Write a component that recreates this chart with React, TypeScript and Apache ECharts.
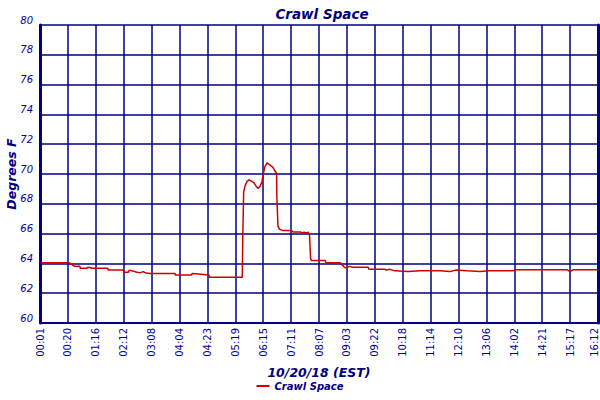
import { useRef, useEffect } from 'react';
import * as echarts from 'echarts';

const tickLabels = [
    '00:01', '00:20', '01:16', '02:12', '03:08', '04:04', '04:23', '05:19', '06:15', '07:11', '08:07',
    '09:03', '09:22', '10:18', '11:14', '12:10', '13:06', '14:02', '14:21', '15:17', '16:12',
];

// x in tick-interval units (0 = 00:01, 20 = 16:12), y in degrees F
const readingX = [
    0.04, 0.9, 1.05, 1.1, 1.15, 1.22, 1.43, 1.44, 1.68, 1.7, 1.82, 1.84, 2.43, 2.44, 3.01, 3.02, 3.17, 3.2, 3.48, 3.6, 3.7, 3.8,
    3.94, 4.84, 4.85, 5.43, 5.46, 6.06, 6.07, 7.25,
    7.27, 7.3, 7.35, 7.42, 7.49, 7.6, 7.67, 7.74, 7.81, 7.88, 7.96, 7.99, 8.06, 8.14, 8.21, 8.28, 8.35, 8.42, 8.48,
    8.49, 8.53, 8.58, 8.71, 9.03, 9.07, 9.35, 9.39, 9.47, 9.54, 9.61, 9.66, 9.7, 9.73, 10.22, 10.25, 10.75,
    10.86, 10.93, 11.11, 11.18, 11.76, 11.79, 12.37, 12.4, 12.55, 12.72, 13.2, 13.6, 14.34, 14.7, 14.9, 15.3,
    15.77, 16.1, 16.95, 17.03, 18.9, 19.0, 19.1, 20,
];
const readingY = [
    64.05, 64.05, 64.05, 63.95, 63.92, 63.81, 63.81, 63.67, 63.67, 63.72, 63.72, 63.67, 63.67, 63.56, 63.56, 63.4, 63.4, 63.55, 63.4, 63.38, 63.45, 63.35,
    63.33, 63.33, 63.22, 63.22, 63.33, 63.22, 63.07, 63.07,
    66.0, 68.8, 69.2, 69.5, 69.6, 69.5, 69.4, 69.2, 69.04, 69.15, 69.5, 69.9, 70.5, 70.75, 70.65, 70.55, 70.45, 70.2, 70.05,
    68.4, 66.5, 66.3, 66.2, 66.2, 66.1, 66.1, 66.05, 66.1, 66.05, 66.1, 65.9, 64.3, 64.2, 64.2, 64.05, 64.05,
    63.85, 63.7, 63.8, 63.75, 63.75, 63.6, 63.6, 63.55, 63.6, 63.5, 63.45, 63.5, 63.5, 63.45, 63.55, 63.5,
    63.45, 63.5, 63.5, 63.57, 63.57, 63.45, 63.57, 63.57,
];

const navy = '#000080';
const labelBlue = '#00009c';
const font = '"DejaVu Sans", Verdana, sans-serif';

const App: React.FC = () => {
    const chartRef = useRef<HTMLDivElement>(null);

    useEffect(() => {
        if (!chartRef.current) return;
        const chart = echarts.init(chartRef.current, undefined, { renderer: 'svg' });
        const seriesData = readingX.map((x, i) => [x, readingY[i]]);

        const option: echarts.EChartsOption = {
            animation: false,
            backgroundColor: '#ffffff',
            title: {
                text: 'Crawl Space',
                left: 317,
                textAlign: 'center',
                top: 2,
                textStyle: { fontFamily: font, fontSize: 13.5, fontWeight: 'bold', fontStyle: 'italic', color: navy },
            },
            legend: {
                bottom: 4,
                left: 'center',
                itemWidth: 13,
                itemHeight: 2,
                itemGap: 4,
                icon: 'rect',
                textStyle: { fontFamily: font, fontSize: 10, fontWeight: 'bold', fontStyle: 'italic', color: navy },
                data: ['Crawl Space'],
            },
            grid: { left: 40, right: 2, top: 25, bottom: 77, outerBoundsMode: 'none' } as any,
            xAxis: {
                type: 'value',
                min: 0,
                max: 20,
                interval: 1,
                name: '10/20/18 (EST)',
                nameLocation: 'middle',
                nameGap: 43,
                nameMoveOverlap: false,
                nameTextStyle: { fontFamily: font, fontSize: 12.5, fontWeight: 'bold', fontStyle: 'italic', color: navy },
                axisLine: { lineStyle: { color: navy, width: 2 } },
                axisTick: { show: false },
                splitLine: { show: true, lineStyle: { color: navy, width: 1.5 } },
                axisLabel: {
                    rotate: 90,
                    fontFamily: font,
                    fontSize: 10,
                    color: labelBlue,
                    margin: 5,
                    showMinLabel: true,
                    showMaxLabel: true,
                    formatter: (value: number) => {
                        const i = Math.round(value);
                        return i === tickLabels.length - 1 ? `{last|${tickLabels[i]}}` : tickLabels[i] ?? '';
                    },
                    rich: {
                        last: { fontFamily: font, fontSize: 10, color: labelBlue, padding: [0, 0, 8, 0] },
                    },
                },
            } as any,
            yAxis: [
                {
                    type: 'value',
                    min: 60,
                    max: 80,
                    interval: 2,
                    name: 'Degrees F',
                    nameLocation: 'middle',
                    nameGap: 22,
                    nameMoveOverlap: false,
                    nameTextStyle: { fontFamily: font, fontSize: 12.5, fontWeight: 'bold', fontStyle: 'italic', color: navy },
                    axisLine: { show: true, lineStyle: { color: navy, width: 3 } },
                    axisTick: { show: false },
                    splitLine: { show: true, lineStyle: { color: navy, width: 1.5 } },
                    axisLabel: {
                        fontFamily: font,
                        fontSize: 10,
                        fontStyle: 'italic',
                        color: labelBlue,
                        margin: 7,
                        verticalAlign: 'bottom',
                    },
                },
                {
                    type: 'value',
                    min: 60,
                    max: 80,
                    position: 'right',
                    axisLine: { show: true, lineStyle: { color: navy, width: 3 } },
                    axisTick: { show: false },
                    axisLabel: { show: false },
                    splitLine: { show: false },
                },
            ] as any,
            series: [
                {
                    name: 'Crawl Space',
                    type: 'line',
                    symbol: 'none',
                    color: '#cc0000',
                    lineStyle: { color: '#cc0000', width: 1.5 },
                    data: seriesData,
                },
            ],
        };

        chart.setOption(option);
        return () => {
            chart.dispose();
        };
    }, []);

    return <div ref={chartRef} style={{ position: 'absolute', left: 0, top: 0, width: '600px', height: '400px' }} />;
};

export default App;
